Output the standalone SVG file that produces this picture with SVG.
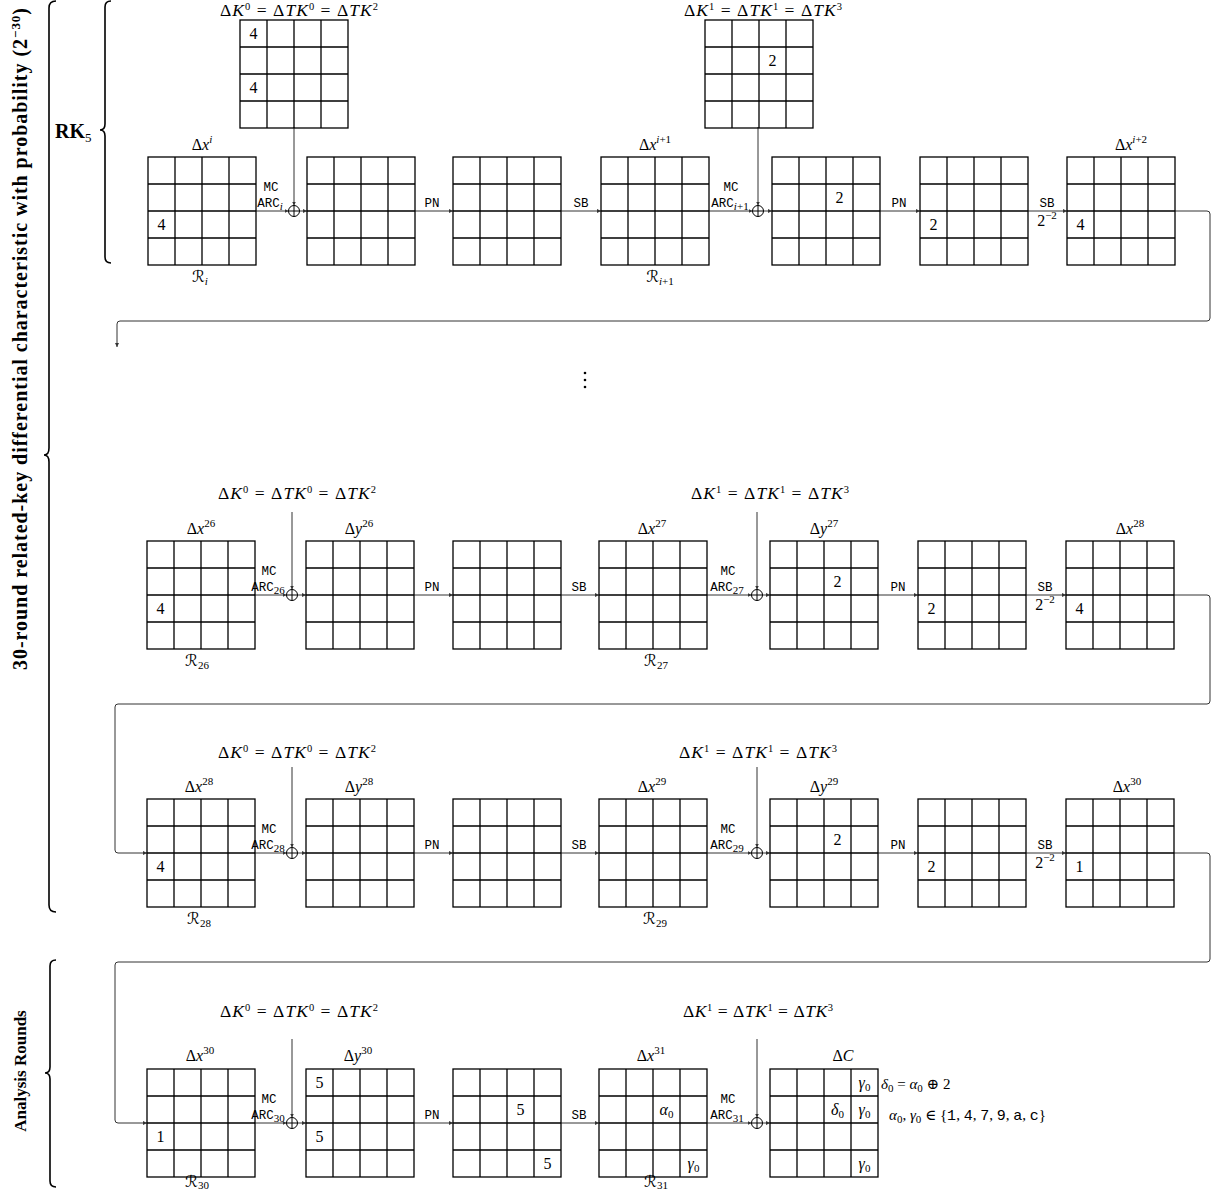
<svg xmlns="http://www.w3.org/2000/svg" xmlns:xlink="http://www.w3.org/1999/xlink" width="1216" height="1193" viewBox="0 0 1216 1193">
<style>
.gl{fill:none;stroke:#000;stroke-width:1.3}
.m{font-family:"Liberation Serif","DejaVu Serif",serif;font-size:15px;fill:#000}
.k{font-family:"Liberation Serif","DejaVu Serif",serif;font-size:17.5px;fill:#000;text-anchor:middle}
.v{font-family:"Liberation Serif","DejaVu Serif",serif;font-size:16px;fill:#000;text-anchor:middle}
.l{font-family:"Liberation Serif","DejaVu Serif",serif;font-size:16px;fill:#000;text-anchor:middle}
.i{font-style:italic}
.sc{font-family:"DejaVu Serif","DejaVu Sans",serif;font-style:italic}
.tt{font-family:"Liberation Mono","DejaVu Sans Mono",monospace;font-size:12.5px;fill:#000;text-anchor:middle}
.ttn{font-family:"Liberation Mono","DejaVu Sans Mono",monospace}
.cn{fill:none;stroke:#333;stroke-width:1}
.br{fill:none;stroke:#000;stroke-width:1.6}
.lb{font-family:"Liberation Serif","DejaVu Serif",serif;font-weight:bold;fill:#000}
</style>
<defs>
<g id="grid"><rect width="108" height="108" class="gl"/><path class="gl" d="M27 0V108M54 0V108M81 0V108M0 27H108M0 54H108M0 81H108"/></g>
<g id="xor"><circle r="5.5" fill="#fff" stroke="#000" stroke-width="1"/><path d="M-5.5 0H5.5M0 -5.5V5.5" stroke="#000" stroke-width="1"/></g>
<marker id="ah" viewBox="0 0 6 6" refX="6" refY="3" markerWidth="4" markerHeight="4" orient="auto"><path d="M0 0L6 3L0 6z" fill="#333"/></marker>
</defs>

<!-- braces and side labels -->
<g id="braces">
<path class="br" d="M56 1Q49 1 49 8V448Q49 455 44 455Q49 455 49 462V905Q49 912 56 912"/>
<path class="br" d="M111 1Q105 1 105 7V124Q105 130 100 130Q105 130 105 136V257Q105 263 111 263"/>
<path class="br" d="M56 960Q50 960 50 966V1067Q50 1073 45 1073Q50 1073 50 1079V1181Q50 1187 56 1187"/>
<text class="lb" font-size="20" text-anchor="middle" textLength="662" lengthAdjust="spacing" transform="translate(27,339) rotate(-90)">30-round related-key differential characteristic with probability (2<tspan font-size="13" dy="-7">−30</tspan><tspan dy="7">)</tspan></text>
<text class="lb" font-size="17" text-anchor="middle" transform="translate(26,1071) rotate(-90)">Analysis Rounds</text>
<text class="lb" x="55" y="138" font-size="20">RK<tspan font-size="13" font-weight="normal" dy="4">5</tspan></text>
</g>

<!-- connectors -->
<g id="connectors" class="cn" marker-end="url(#ah)">
<path d="M256 211H288.5"/><path d="M299.5 211H307"/><path d="M415 211H453"/><path d="M561 211H601"/><path d="M709 211H752.5"/><path d="M763.5 211H772"/><path d="M880 211H920"/><path d="M1028 211H1067"/>
<path d="M1175 211H1207Q1210 211 1210 214V318Q1210 321 1207 321H120Q117 321 117 324V347"/>
<path d="M294 127V205.5"/><path d="M758 127V205.5"/>
<path d="M254 595H286.5"/><path d="M297.5 595H306"/><path d="M414 595H453"/><path d="M561 595H599"/><path d="M707 595H751.5"/><path d="M762.5 595H770"/><path d="M878 595H918"/><path d="M1026 595H1066"/>
<path d="M1174 595H1207Q1210 595 1210 598V701Q1210 704 1207 704H118Q115 704 115 707V850Q115 853 118 853H147"/>
<path d="M292 512V589.5"/><path d="M757 512V589.5"/>
<path d="M254 853H286.5"/><path d="M297.5 853H306"/><path d="M414 853H453"/><path d="M561 853H599"/><path d="M707 853H751.5"/><path d="M762.5 853H770"/><path d="M878 853H918"/><path d="M1026 853H1066"/>
<path d="M1174 853H1207Q1210 853 1210 856V959Q1210 962 1207 962H118Q115 962 115 965V1120Q115 1123 118 1123H147"/>
<path d="M292 767V847.5"/><path d="M757 767V847.5"/>
<path d="M254 1123H286.5"/><path d="M297.5 1123H306"/><path d="M414 1123H453"/><path d="M561 1123H599"/><path d="M707 1123H751.5"/><path d="M762.5 1123H770"/>
<path d="M292 1039V1117.5"/><path d="M757 1039V1117.5"/>
</g>
<g id="xors">
<use xlink:href="#xor" href="#xor" x="294" y="211"/><use xlink:href="#xor" href="#xor" x="758" y="211"/>
<use xlink:href="#xor" href="#xor" x="292" y="595"/><use xlink:href="#xor" href="#xor" x="757" y="595"/>
<use xlink:href="#xor" href="#xor" x="292" y="853"/><use xlink:href="#xor" href="#xor" x="757" y="853"/>
<use xlink:href="#xor" href="#xor" x="292" y="1123"/><use xlink:href="#xor" href="#xor" x="757" y="1123"/>
</g>

<!-- ellipsis -->
<g id="ellipsis" fill="#000"><circle cx="585" cy="373" r="1.3"/><circle cx="585" cy="380" r="1.3"/><circle cx="585" cy="387" r="1.3"/></g>

<!-- ROW 1 -->
<g id="r1-key0"><use xlink:href="#grid" href="#grid" x="240" y="20"/>
<text class="v" x="253.5" y="39">4</text><text class="v" x="253.5" y="93">4</text>
<text class="k" x="299" y="16" textLength="158" lengthAdjust="spacing">Δ<tspan class="i">K</tspan><tspan font-size="10.5" dy="-6">0</tspan><tspan dy="6"> = Δ</tspan><tspan class="i">TK</tspan><tspan font-size="10.5" dy="-6">0</tspan><tspan dy="6"> = Δ</tspan><tspan class="i">TK</tspan><tspan font-size="10.5" dy="-6">2</tspan></text></g>
<g id="r1-key1"><use xlink:href="#grid" href="#grid" x="705" y="20"/>
<text class="v" x="772.5" y="66">2</text>
<text class="k" x="763" y="16" textLength="158" lengthAdjust="spacing">Δ<tspan class="i">K</tspan><tspan font-size="10.5" dy="-6">1</tspan><tspan dy="6"> = Δ</tspan><tspan class="i">TK</tspan><tspan font-size="10.5" dy="-6">1</tspan><tspan dy="6"> = Δ</tspan><tspan class="i">TK</tspan><tspan font-size="10.5" dy="-6">3</tspan></text></g>
<g id="r1-g1"><use xlink:href="#grid" href="#grid" x="148" y="157"/><text class="v" x="161.5" y="230">4</text>
<text class="l" x="202" y="150">Δ<tspan class="i">x</tspan><tspan class="i" font-size="11" dy="-7">i</tspan></text>
<text class="l" x="200" y="282"><tspan class="sc">ℛ</tspan><tspan class="i" font-size="11" dy="3">i</tspan></text></g>
<g id="r1-g2"><use xlink:href="#grid" href="#grid" x="307" y="157"/></g>
<g id="r1-g3"><use xlink:href="#grid" href="#grid" x="453" y="157"/></g>
<g id="r1-g4"><use xlink:href="#grid" href="#grid" x="601" y="157"/>
<text class="l" x="655" y="150">Δ<tspan class="i">x</tspan><tspan font-size="11" dy="-7"><tspan class="i">i</tspan>+1</tspan></text>
<text class="l" x="660" y="282"><tspan class="sc">ℛ</tspan><tspan font-size="11" dy="3"><tspan class="i">i</tspan>+1</tspan></text></g>
<g id="r1-g5"><use xlink:href="#grid" href="#grid" x="772" y="157"/><text class="v" x="839.5" y="203">2</text></g>
<g id="r1-g6"><use xlink:href="#grid" href="#grid" x="920" y="157"/><text class="v" x="933.5" y="230">2</text></g>
<g id="r1-g7"><use xlink:href="#grid" href="#grid" x="1067" y="157"/><text class="v" x="1080.5" y="230">4</text>
<text class="l" x="1131" y="150">Δ<tspan class="i">x</tspan><tspan font-size="11" dy="-7"><tspan class="i">i</tspan>+2</tspan></text></g>
<g id="r1-ops">
<text class="tt" x="271" y="191">MC</text><text class="tt" x="270" y="207">ARC<tspan font-family="Liberation Serif" font-style="italic" font-size="11" dy="3">i</tspan></text>
<text class="tt" x="432" y="207">PN</text><text class="tt" x="581" y="207">SB</text>
<text class="tt" x="731" y="191">MC</text><text class="tt" x="730" y="207">ARC<tspan font-family="Liberation Serif" font-size="11" dy="3"><tspan font-style="italic">i</tspan>+1</tspan></text>
<text class="tt" x="899" y="207">PN</text><text class="tt" x="1047" y="207">SB</text>
<text class="l" x="1047" y="226">2<tspan font-size="11" dy="-7">−2</tspan></text>
</g>

<!-- ROW 2 -->
<g id="r2-key"><text class="k" x="297" y="499" textLength="158" lengthAdjust="spacing">Δ<tspan class="i">K</tspan><tspan font-size="10.5" dy="-6">0</tspan><tspan dy="6"> = Δ</tspan><tspan class="i">TK</tspan><tspan font-size="10.5" dy="-6">0</tspan><tspan dy="6"> = Δ</tspan><tspan class="i">TK</tspan><tspan font-size="10.5" dy="-6">2</tspan></text>
<text class="k" x="770" y="499" textLength="158" lengthAdjust="spacing">Δ<tspan class="i">K</tspan><tspan font-size="10.5" dy="-6">1</tspan><tspan dy="6"> = Δ</tspan><tspan class="i">TK</tspan><tspan font-size="10.5" dy="-6">1</tspan><tspan dy="6"> = Δ</tspan><tspan class="i">TK</tspan><tspan font-size="10.5" dy="-6">3</tspan></text></g>
<g id="r2-g1"><use xlink:href="#grid" href="#grid" x="147" y="541"/><text class="v" x="160.5" y="614">4</text>
<text class="l" x="201" y="534">Δ<tspan class="i">x</tspan><tspan font-size="11" dy="-7">26</tspan></text>
<text class="l" x="197" y="666"><tspan class="sc">ℛ</tspan><tspan font-size="11" dy="3">26</tspan></text></g>
<g id="r2-g2"><use xlink:href="#grid" href="#grid" x="306" y="541"/>
<text class="l" x="359" y="534">Δ<tspan class="i">y</tspan><tspan font-size="11" dy="-7">26</tspan></text></g>
<g id="r2-g3"><use xlink:href="#grid" href="#grid" x="453" y="541"/></g>
<g id="r2-g4"><use xlink:href="#grid" href="#grid" x="599" y="541"/>
<text class="l" x="652" y="534">Δ<tspan class="i">x</tspan><tspan font-size="11" dy="-7">27</tspan></text>
<text class="l" x="656" y="666"><tspan class="sc">ℛ</tspan><tspan font-size="11" dy="3">27</tspan></text></g>
<g id="r2-g5"><use xlink:href="#grid" href="#grid" x="770" y="541"/><text class="v" x="837.5" y="587">2</text>
<text class="l" x="824" y="534">Δ<tspan class="i">y</tspan><tspan font-size="11" dy="-7">27</tspan></text></g>
<g id="r2-g6"><use xlink:href="#grid" href="#grid" x="918" y="541"/><text class="v" x="931.5" y="614">2</text></g>
<g id="r2-g7"><use xlink:href="#grid" href="#grid" x="1066" y="541"/><text class="v" x="1079.5" y="614">4</text>
<text class="l" x="1130" y="534">Δ<tspan class="i">x</tspan><tspan font-size="11" dy="-7">28</tspan></text></g>
<g id="r2-ops">
<text class="tt" x="269" y="575">MC</text><text class="tt" x="268" y="591">ARC<tspan font-family="Liberation Serif" font-size="11" dy="3">26</tspan></text>
<text class="tt" x="432" y="591">PN</text><text class="tt" x="579" y="591">SB</text>
<text class="tt" x="728" y="575">MC</text><text class="tt" x="727" y="591">ARC<tspan font-family="Liberation Serif" font-size="11" dy="3">27</tspan></text>
<text class="tt" x="898" y="591">PN</text><text class="tt" x="1045" y="591">SB</text>
<text class="l" x="1045" y="610">2<tspan font-size="11" dy="-7">−2</tspan></text>
</g>

<!-- ROW 3 -->
<g id="r3-key"><text class="k" x="297" y="758" textLength="158" lengthAdjust="spacing">Δ<tspan class="i">K</tspan><tspan font-size="10.5" dy="-6">0</tspan><tspan dy="6"> = Δ</tspan><tspan class="i">TK</tspan><tspan font-size="10.5" dy="-6">0</tspan><tspan dy="6"> = Δ</tspan><tspan class="i">TK</tspan><tspan font-size="10.5" dy="-6">2</tspan></text>
<text class="k" x="758" y="758" textLength="158" lengthAdjust="spacing">Δ<tspan class="i">K</tspan><tspan font-size="10.5" dy="-6">1</tspan><tspan dy="6"> = Δ</tspan><tspan class="i">TK</tspan><tspan font-size="10.5" dy="-6">1</tspan><tspan dy="6"> = Δ</tspan><tspan class="i">TK</tspan><tspan font-size="10.5" dy="-6">3</tspan></text></g>
<g id="r3-g1"><use xlink:href="#grid" href="#grid" x="147" y="799"/><text class="v" x="160.5" y="872">4</text>
<text class="l" x="199" y="792">Δ<tspan class="i">x</tspan><tspan font-size="11" dy="-7">28</tspan></text>
<text class="l" x="199" y="924"><tspan class="sc">ℛ</tspan><tspan font-size="11" dy="3">28</tspan></text></g>
<g id="r3-g2"><use xlink:href="#grid" href="#grid" x="306" y="799"/>
<text class="l" x="359" y="792">Δ<tspan class="i">y</tspan><tspan font-size="11" dy="-7">28</tspan></text></g>
<g id="r3-g3"><use xlink:href="#grid" href="#grid" x="453" y="799"/></g>
<g id="r3-g4"><use xlink:href="#grid" href="#grid" x="599" y="799"/>
<text class="l" x="652" y="792">Δ<tspan class="i">x</tspan><tspan font-size="11" dy="-7">29</tspan></text>
<text class="l" x="655" y="924"><tspan class="sc">ℛ</tspan><tspan font-size="11" dy="3">29</tspan></text></g>
<g id="r3-g5"><use xlink:href="#grid" href="#grid" x="770" y="799"/><text class="v" x="837.5" y="845">2</text>
<text class="l" x="824" y="792">Δ<tspan class="i">y</tspan><tspan font-size="11" dy="-7">29</tspan></text></g>
<g id="r3-g6"><use xlink:href="#grid" href="#grid" x="918" y="799"/><text class="v" x="931.5" y="872">2</text></g>
<g id="r3-g7"><use xlink:href="#grid" href="#grid" x="1066" y="799"/><text class="v" x="1079.5" y="872">1</text>
<text class="l" x="1127" y="792">Δ<tspan class="i">x</tspan><tspan font-size="11" dy="-7">30</tspan></text></g>
<g id="r3-ops">
<text class="tt" x="269" y="833">MC</text><text class="tt" x="268" y="849">ARC<tspan font-family="Liberation Serif" font-size="11" dy="3">28</tspan></text>
<text class="tt" x="432" y="849">PN</text><text class="tt" x="579" y="849">SB</text>
<text class="tt" x="728" y="833">MC</text><text class="tt" x="727" y="849">ARC<tspan font-family="Liberation Serif" font-size="11" dy="3">29</tspan></text>
<text class="tt" x="898" y="849">PN</text><text class="tt" x="1045" y="849">SB</text>
<text class="l" x="1045" y="868">2<tspan font-size="11" dy="-7">−2</tspan></text>
</g>

<!-- ROW 4 -->
<g id="r4-key"><text class="k" x="299" y="1017" textLength="158" lengthAdjust="spacing">Δ<tspan class="i">K</tspan><tspan font-size="10.5" dy="-6">0</tspan><tspan dy="6"> = Δ</tspan><tspan class="i">TK</tspan><tspan font-size="10.5" dy="-6">0</tspan><tspan dy="6"> = Δ</tspan><tspan class="i">TK</tspan><tspan font-size="10.5" dy="-6">2</tspan></text>
<text class="k" x="758" y="1017" textLength="150" lengthAdjust="spacing">Δ<tspan class="i">K</tspan><tspan font-size="10.5" dy="-6">1</tspan><tspan dy="6"> = Δ</tspan><tspan class="i">TK</tspan><tspan font-size="10.5" dy="-6">1</tspan><tspan dy="6"> = Δ</tspan><tspan class="i">TK</tspan><tspan font-size="10.5" dy="-6">3</tspan></text></g>
<g id="r4-g1"><use xlink:href="#grid" href="#grid" x="147" y="1069"/><text class="v" x="160.5" y="1142">1</text>
<text class="l" x="200" y="1061">Δ<tspan class="i">x</tspan><tspan font-size="11" dy="-7">30</tspan></text>
<text class="l" x="197" y="1187"><tspan class="sc">ℛ</tspan><tspan font-size="11" dy="2">30</tspan></text></g>
<g id="r4-g2"><use xlink:href="#grid" href="#grid" x="306" y="1069"/><text class="v" x="319.5" y="1088">5</text><text class="v" x="319.5" y="1142">5</text>
<text class="l" x="358" y="1061">Δ<tspan class="i">y</tspan><tspan font-size="11" dy="-7">30</tspan></text></g>
<g id="r4-g3"><use xlink:href="#grid" href="#grid" x="453" y="1069"/><text class="v" x="520.5" y="1115">5</text><text class="v" x="547.5" y="1169">5</text></g>
<g id="r4-g4"><use xlink:href="#grid" href="#grid" x="599" y="1069"/>
<text class="v" x="666.5" y="1115"><tspan class="i">α</tspan><tspan font-size="11" dy="3">0</tspan></text>
<text class="v" x="693.5" y="1169"><tspan class="i">γ</tspan><tspan font-size="11" dy="3">0</tspan></text>
<text class="l" x="651" y="1061">Δ<tspan class="i">x</tspan><tspan font-size="11" dy="-7">31</tspan></text>
<text class="l" x="656" y="1187"><tspan class="sc">ℛ</tspan><tspan font-size="11" dy="2">31</tspan></text></g>
<g id="r4-g5"><use xlink:href="#grid" href="#grid" x="770" y="1069"/>
<text class="v" x="864.5" y="1088"><tspan class="i">γ</tspan><tspan font-size="11" dy="3">0</tspan></text>
<text class="v" x="837.5" y="1115"><tspan class="i">δ</tspan><tspan font-size="11" dy="3">0</tspan></text>
<text class="v" x="864.5" y="1115"><tspan class="i">γ</tspan><tspan font-size="11" dy="3">0</tspan></text>
<text class="v" x="864.5" y="1169"><tspan class="i">γ</tspan><tspan font-size="11" dy="3">0</tspan></text>
<text class="l" x="843" y="1061">Δ<tspan class="i">C</tspan></text></g>
<g id="r4-ops">
<text class="tt" x="269" y="1103">MC</text><text class="tt" x="268" y="1119">ARC<tspan font-family="Liberation Serif" font-size="11" dy="3">30</tspan></text>
<text class="tt" x="432" y="1119">PN</text><text class="tt" x="579" y="1119">SB</text>
<text class="tt" x="728" y="1103">MC</text><text class="tt" x="727" y="1119">ARC<tspan font-family="Liberation Serif" font-size="11" dy="3">31</tspan></text>
</g>
<g id="notes">
<text class="m" x="881" y="1089" font-size="16"><tspan class="i">δ</tspan><tspan font-size="11" dy="3">0</tspan><tspan dy="-3"> = </tspan><tspan class="i">α</tspan><tspan font-size="11" dy="3">0</tspan><tspan dy="-3"> ⊕ 2</tspan></text>
<text class="m" x="889" y="1120" font-size="16"><tspan class="i">α</tspan><tspan font-size="11" dy="3">0</tspan><tspan dy="-3">, </tspan><tspan class="i">γ</tspan><tspan font-size="11" dy="3">0</tspan><tspan dy="-3"> ∈ {</tspan><tspan class="ttn">1</tspan>, <tspan class="ttn">4</tspan>, <tspan class="ttn">7</tspan>, <tspan class="ttn">9</tspan>, <tspan class="ttn">a</tspan>, <tspan class="ttn">c</tspan>}</text>
</g>
</svg>
